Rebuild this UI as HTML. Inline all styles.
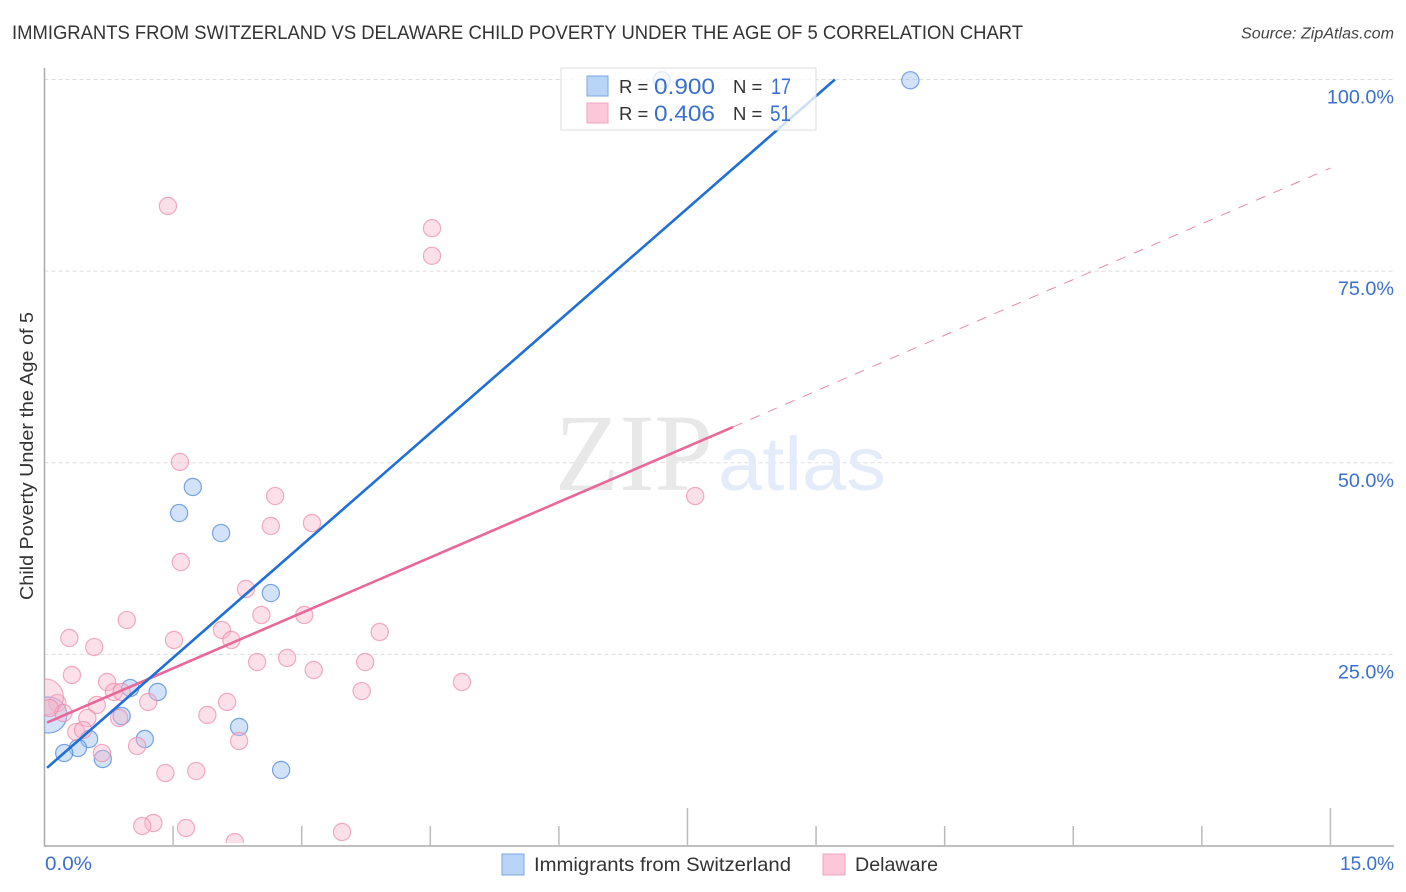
<!DOCTYPE html>
<html lang="en">
<head>
<meta charset="utf-8">
<title>Immigrants from Switzerland vs Delaware Child Poverty Correlation Chart</title>
<style>
html,body{margin:0;padding:0;background:#fff;}
body{width:1406px;height:892px;overflow:hidden;}
svg{display:block;font-family:"Liberation Sans",sans-serif;}
</style>
</head>
<body>
<svg id="chart" xmlns="http://www.w3.org/2000/svg" width="1406" height="892" viewBox="0 0 1406 892">
  <defs>
    <clipPath id="plot-clip"><rect x="44.5" y="68" width="1350" height="775"/></clipPath>
  </defs>
  <rect x="0" y="0" width="1406" height="892" fill="#ffffff"/>
  <text x="12" y="39" font-size="19.5" fill="#333" textLength="1011" lengthAdjust="spacingAndGlyphs">IMMIGRANTS FROM SWITZERLAND VS DELAWARE CHILD POVERTY UNDER THE AGE OF 5 CORRELATION CHART</text>
  <text x="1241" y="38.500" font-size="15.5" font-style="italic" fill="#444" textLength="153" lengthAdjust="spacingAndGlyphs">Source: ZipAtlas.com</text>
  <g id="grid"></g>
  <g>
    <text x="555" y="490" font-family="'Liberation Serif',serif" font-size="110" fill="#e8e8e8" textLength="158" lengthAdjust="spacingAndGlyphs">ZIP</text>
    <text x="718" y="490" font-size="76" fill="#e4ecfa" textLength="168" lengthAdjust="spacingAndGlyphs">atlas</text>
  </g>
  <g id="axes"></g>
  <g id="marks" clip-path="url(#plot-clip)"></g>
  <text transform="translate(33,456) rotate(-90)" text-anchor="middle" font-size="18.500" fill="#333" textLength="288" lengthAdjust="spacingAndGlyphs">Child Poverty Under the Age of 5</text>

  <g>
    <rect x="561" y="68" width="255" height="62" fill="#ffffff" fill-opacity="0.78" stroke="#dddddd" stroke-width="1"/>
    <rect x="587" y="76" width="21" height="20" fill="#b8d4f7" stroke="#7ba6e0" stroke-width="1"/>
    <text x="619" y="93" font-size="18.500" fill="#333">R =</text>
    <text x="654" y="94" font-size="22" fill="#3a6fd0" textLength="61" lengthAdjust="spacingAndGlyphs">0.900</text>
    <text x="733" y="93" font-size="18.500" fill="#333">N =</text>
    <text x="771" y="94" font-size="22" fill="#3a6fd0" textLength="20" lengthAdjust="spacingAndGlyphs">17</text>
    <rect x="587" y="103" width="21" height="20" fill="#fcc8d9" stroke="#f0a3bd" stroke-width="1"/>
    <text x="619" y="120" font-size="18.500" fill="#333">R =</text>
    <text x="654" y="121" font-size="22" fill="#3a6fd0" textLength="61" lengthAdjust="spacingAndGlyphs">0.406</text>
    <text x="733" y="120" font-size="18.500" fill="#333">N =</text>
    <text x="770" y="121" font-size="22" fill="#3a6fd0" textLength="21" lengthAdjust="spacingAndGlyphs">51</text>
  </g>

  <g>
    <rect x="502" y="854" width="22" height="21" fill="#b8d4f7" stroke="#7ba6e0" stroke-width="1"/>
    <text x="534" y="871" font-size="19.500" fill="#333" textLength="257" lengthAdjust="spacingAndGlyphs">Immigrants from Switzerland</text>
    <rect x="823" y="854" width="22" height="21" fill="#fcc8d9" stroke="#f0a3bd" stroke-width="1"/>
    <text x="855" y="871" font-size="19.500" fill="#333" textLength="83" lengthAdjust="spacingAndGlyphs">Delaware</text>
  </g>
</svg>
<script>
// Chart data
const yTickValues = [25, 50, 75, 100];
const yTickLabels = ["25.0%", "50.0%", "75.0%", "100.0%"];
const xTickValues = [1.5, 3, 4.5, 6, 7.5, 9, 10.5, 12, 13.5, 15];
const xMajorTicks = [7.5, 15];
const xEdgeLabels = ["0.0%", "15.0%"];

const swissX = [10.1, 7.2, 1.73, 1.57, 2.06, 2.64, 1.32, 1.0, 0.9, 1.17, 2.27, 0.52, 0.39, 0.23, 0.68, 2.76, 0.05];
const swissY = [99.9, 99.9, 46.84, 43.44, 40.83, 33.0, 20.09, 20.61, 16.96, 13.96, 15.53, 13.96, 12.79, 12.13, 11.35, 9.92, 17.09];
const swissWeight = [1, 1, 1, 1, 1, 1, 1, 1, 1, 1, 1, 1, 1, 1, 1, 1, 4.4];

const delawareX = [1.44, 4.52, 4.52, 1.58, 2.69, 7.59, 2.64, 3.12, 1.59, 2.35, 2.53, 3.03, 0.96, 0.29, 1.51, 2.07, 2.18, 3.91, 0.58, 2.48, 2.83, 3.74, 3.14, 0.32, 4.87, 0.73, 3.7, 0.81, 0.9, 2.13, 1.21, 0.61, 0.15, 0.01, 1.9, 0.5, 0.87, 0.22, 0.37, 0.45, 2.27, 1.08, 0.67, 1.77, 1.41, 1.27, 1.14, 1.65, 2.22, 3.47, 0.06];
const delawareY = [83.5, 80.6, 77.0, 50.1, 45.66, 45.66, 41.75, 42.14, 37.05, 33.53, 30.14, 30.14, 29.48, 27.14, 26.88, 28.18, 26.88, 27.92, 25.96, 24.0, 24.53, 24.0, 22.96, 22.31, 21.4, 21.4, 20.22, 20.09, 20.09, 18.79, 18.79, 18.4, 18.66, 19.44, 17.09, 16.7, 16.7, 17.35, 14.87, 15.13, 13.7, 13.05, 12.13, 9.78, 9.52, 3.0, 2.61, 2.35, 0.52, 1.83, 18.0];
const delawareWeight = [1, 1, 1, 1, 1, 1, 1, 1, 1, 1, 1, 1, 1, 1, 1, 1, 1, 1, 1, 1, 1, 1, 1, 1, 1, 1, 1, 1, 1, 1, 1, 1, 1, 4.4, 1, 1, 1, 1, 1, 1, 1, 1, 1, 1, 1, 1, 1, 1, 1, 1, 1];

const swissTrendX = [0.03, 9.22];
const swissTrendY = [10.2, 100];
const delawareTrendX = [0.03, 8.03];
const delawareTrendY = [16.1, 54.66];
const delawareExtendX = [8.03, 15];
const delawareExtendY = [54.66, 88.45];

// Axis functions
const xScale = v => 44.5 + v * 85.73;
const yScale = v => 846 - v * 7.665;
const rScale = w => 8.6 * Math.sqrt(w);

const NS = "http://www.w3.org/2000/svg";
function make(tag, attrs, parent) {
  const el = document.createElementNS(NS, tag);
  for (const k in attrs) el.setAttribute(k, attrs[k]);
  parent.appendChild(el);
  return el;
}
const grid = document.getElementById("grid");
const axes = document.getElementById("axes");
const marks = document.getElementById("marks");

yTickValues.forEach((v, i) => {
  const line = make("line", {x1: 44.5, x2: 1394, y1: yScale(v), y2: yScale(v), stroke: "#dddddd", "stroke-width": 1, "stroke-dasharray": "4 3"}, grid);
  
  
  const label = make("text", {x: 1394, y: yScale(v) + 24, "text-anchor": "end", "font-size": 19.8, fill: "#3a6fd0"}, axes);
  
  
  label.textContent = yTickLabels[i];
});

const yAxisLine = make("line", {x1: 44.5, x2: 44.5, y1: 68, y2: 846.5, stroke: "#aaaaaa", "stroke-width": 1.5}, axes);


const xAxisLine = make("line", {x1: 44, x2: 1394, y1: 846, y2: 846, stroke: "#aaaaaa", "stroke-width": 1.5}, axes);



xTickValues.forEach(v => {
  const major = xMajorTicks.includes(v);
  const tick = make("line", {x1: xScale(v), x2: xScale(v), y1: major ? 808 : 826, y2: 846, stroke: "#bbbbbb", "stroke-width": 1.5}, axes);
  
  
});

const xLabelLeft = make("text", {x: 45, y: 870, "font-size": 19.8, fill: "#3a6fd0", textLength: 47, lengthAdjust: "spacingAndGlyphs"}, axes);


xLabelLeft.textContent = xEdgeLabels[0];
const xLabelRight = make("text", {x: 1340, y: 870, "font-size": 19.8, fill: "#3a6fd0", textLength: 54, lengthAdjust: "spacingAndGlyphs"}, axes);


xLabelRight.textContent = xEdgeLabels[1];

swissX.forEach((v, i) => {
  const c = make("circle", {cx: xScale(v), cy: yScale(swissY[i]), r: rScale(swissWeight[i]), fill: "#9cc2f2", "fill-opacity": 0.45, stroke: "#4f87dc", "stroke-opacity": 0.75, "stroke-width": 1.2}, marks);
  
  
});
delawareX.forEach((v, i) => {
  const c = make("circle", {cx: xScale(v), cy: yScale(delawareY[i]), r: rScale(delawareWeight[i]), fill: "#f8b4ca", "fill-opacity": 0.42, stroke: "#ec8aab", "stroke-opacity": 0.7, "stroke-width": 1.2}, marks);
  
  
});

const extend = make("line", {x1: xScale(delawareExtendX[0]), y1: yScale(delawareExtendY[0]), x2: xScale(delawareExtendX[1]), y2: yScale(delawareExtendY[1]), stroke: "#e88aa8", "stroke-width": 1, "stroke-dasharray": "10 9"}, marks);


const pinkLine = make("line", {x1: xScale(delawareTrendX[0]), y1: yScale(delawareTrendY[0]), x2: xScale(delawareTrendX[1]), y2: yScale(delawareTrendY[1]), stroke: "#e8689a", "stroke-width": 2.6}, marks);


const blueLine = make("line", {x1: xScale(swissTrendX[0]), y1: yScale(swissTrendY[0]), x2: xScale(swissTrendX[1]), y2: yScale(swissTrendY[1]), stroke: "#1f6fd6", "stroke-width": 2.6}, marks);


</script>
</body>
</html>
